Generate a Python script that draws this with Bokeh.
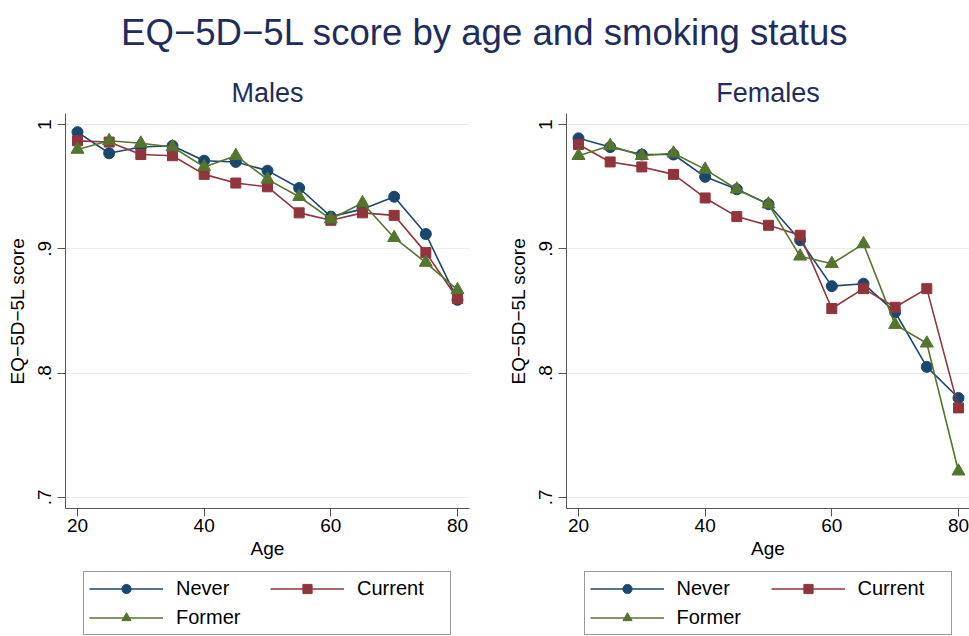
from bokeh.plotting import figure
from bokeh.layouts import column, row
from bokeh.models import Range1d, FixedTicker, Legend, LegendItem
from bokeh.embed import file_html
from bokeh.resources import INLINE

ages = [20, 25, 30, 35, 40, 45, 50, 55, 60, 65, 70, 75, 80]

male_never = [0.994, 0.977, 0.982, 0.983, 0.971, 0.970, 0.963, 0.949, 0.926, 0.932, 0.942, 0.912, 0.859]
male_current = [0.987, 0.986, 0.976, 0.975, 0.960, 0.953, 0.950, 0.929, 0.923, 0.929, 0.927, 0.897, 0.860]
male_former = [0.980, 0.987, 0.985, 0.982, 0.966, 0.975, 0.956, 0.942, 0.924, 0.937, 0.909, 0.889, 0.867]

female_never = [0.989, 0.982, 0.976, 0.976, 0.958, 0.948, 0.936, 0.907, 0.870, 0.872, 0.849, 0.805, 0.780]
female_current = [0.984, 0.970, 0.966, 0.960, 0.941, 0.926, 0.919, 0.911, 0.852, 0.868, 0.853, 0.868, 0.772]
female_former = [0.975, 0.983, 0.975, 0.977, 0.964, 0.948, 0.936, 0.894, 0.888, 0.904, 0.839, 0.824, 0.721]

series_names = ["Never", "Current", "Former"]
y_ticks = [0.7, 0.8, 0.9, 1.0]
y_tick_labels = [".7", ".8", ".9", "1"]
x_ticks = [20, 40, 60, 80]

main_title = "EQ\u22125D\u22125L score by age and smoking status"
y_label = "EQ\u22125D\u22125L score"
x_label = "Age"

FONT = "Liberation Sans"
NAVY_T = "#1f2d5c"
COLORS = ["#1a476f", "#90353b", "#55752f"]
MARKERS = ["circle", "square", "triangle"]
MSIZE = [11, 10, 13]


def add_series(p, data):
    out = []
    for name, vals, col, mk, ms in zip(series_names, data, COLORS, MARKERS, MSIZE):
        ln = p.line(ages, vals, line_color=col, line_width=1.6)
        sc = p.scatter(ages, vals, marker=mk, size=ms, fill_color=col, line_color=col)
        out.append((name, ln, sc))
    return out


def make_panel(title, data, width, bl, br, x_end):
    p = figure(width=width, height=500, output_backend="svg", toolbar_location=None,
               x_range=Range1d(18.105, x_end), y_range=Range1d(0.691, 1.009),
               min_border_left=bl, min_border_right=br, min_border_top=47,
               min_border_bottom=58)
    p.outline_line_color = None
    p.title.text = title
    p.title.align = "center"
    p.title.text_font = FONT
    p.title.text_font_size = "27px"
    p.title.text_font_style = "normal"
    p.title.text_color = NAVY_T
    p.title.standoff = 12

    p.xgrid.visible = False
    p.ygrid.grid_line_color = "#ececec"
    p.ygrid.ticker = FixedTicker(ticks=y_ticks)

    for ax in (p.xaxis[0], p.yaxis[0]):
        ax.axis_line_color = "#555555"
        ax.major_tick_line_color = "#555555"
        ax.minor_tick_line_color = None
        ax.major_tick_in = 0
        ax.major_tick_out = 8
        ax.major_label_text_font = FONT
        ax.major_label_text_font_size = "19px"
        ax.major_label_text_color = "black"
        ax.axis_label_text_font = FONT
        ax.axis_label_text_font_size = "19px"
        ax.axis_label_text_font_style = "normal"
        ax.axis_label_text_color = "black"

    p.xaxis.major_label_standoff = 2
    p.xaxis.axis_label_standoff = 3
    p.yaxis.major_label_standoff = 6
    p.yaxis.axis_label_standoff = 8

    p.xaxis.ticker = FixedTicker(ticks=x_ticks)
    p.xaxis.axis_label = x_label
    p.yaxis.ticker = FixedTicker(ticks=y_ticks)
    p.yaxis.major_label_overrides = {t: l for t, l in zip(y_ticks, y_tick_labels)}
    p.yaxis.major_label_orientation = "vertical"
    p.yaxis.axis_label = y_label

    add_series(p, data)
    return p


def make_legend_fig(data, width, bl, br):
    q = figure(width=width, height=70, output_backend="svg", toolbar_location=None,
               x_axis_location=None, y_axis_location=None,
               x_range=Range1d(0, 1), y_range=Range1d(0, 1),
               min_border_left=bl, min_border_right=br, min_border_top=0, min_border_bottom=0)
    q.outline_line_color = None
    q.xgrid.visible = False
    q.ygrid.visible = False
    # legend glyphs reuse the series, which lie outside this figure's visible range
    rs = add_series(q, data)
    items = [LegendItem(label=n, renderers=[ln, sc]) for n, ln, sc in rs]
    leg = Legend(items=items, orientation="horizontal", ncols=2, location="top_center",
                 label_text_font=FONT, label_text_font_size="20px", label_text_color="black",
                 glyph_width=74, glyph_height=23, label_standoff=13, label_width=88,
                 spacing=6, padding=5, margin=5,
                 border_line_color="#333333", border_line_width=1,
                 background_fill_color="white", background_fill_alpha=1)
    q.add_layout(leg)
    return q


male_data = [male_never, male_current, male_former]
female_data = [female_never, female_current, female_former]

left = make_panel("Males", male_data, 496, 65, 27, 81.895)
right = make_panel("Females", female_data, 473, 70, 0, 81.74)
left_leg = make_legend_fig([[v + 10 for v in s] for s in male_data], 496, 65, 27)
right_leg = make_legend_fig([[v + 10 for v in s] for s in female_data], 473, 70, 0)

header = figure(width=969, height=66, output_backend="svg", toolbar_location=None,
                x_axis_location=None, y_axis_location=None,
                min_border_left=0, min_border_right=0, min_border_top=56, min_border_bottom=0)
header.outline_line_color = None
header.xgrid.visible = False
header.ygrid.visible = False
header.title.text = main_title
header.title.align = "center"
header.title.text_font = FONT
header.title.text_font_size = "36.6px"
header.title.text_font_style = "normal"
header.title.text_color = NAVY_T
header.title.standoff = 7

layout = column(header, row(column(left, left_leg), column(right, right_leg)))

with open("out.html", "w") as f:
    f.write(file_html(layout, INLINE))
